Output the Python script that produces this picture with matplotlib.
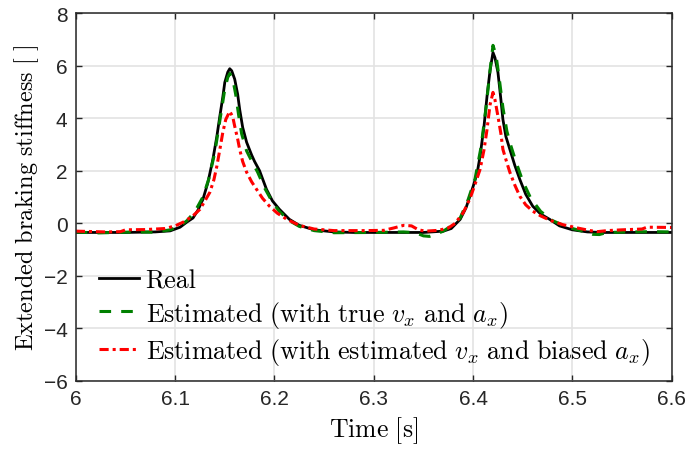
import matplotlib.pyplot as plt

# valores
t_real = [6.000, 6.050, 6.080, 6.095, 6.105, 6.112, 6.118, 6.123, 6.128, 6.133,
          6.138, 6.142, 6.145, 6.148, 6.150, 6.153, 6.155, 6.157, 6.160, 6.163,
          6.165, 6.168, 6.172, 6.177, 6.180, 6.185, 6.192, 6.198, 6.205, 6.215,
          6.225, 6.240, 6.260, 6.280, 6.350, 6.370, 6.378, 6.387, 6.393, 6.400,
          6.404, 6.407, 6.411, 6.414, 6.417, 6.420, 6.422, 6.425, 6.428, 6.430,
          6.433, 6.437, 6.442, 6.447, 6.453, 6.460, 6.468, 6.477, 6.487, 6.500,
          6.515, 6.530, 6.600]
k_real = [-0.35, -0.35, -0.33, -0.29, -0.15, 0.05, 0.20, 0.50, 0.91, 1.55,
          2.43, 3.30, 4.07, 4.80, 5.36, 5.75, 5.88, 5.80, 5.48, 4.90,
          4.33, 3.65, 3.08, 2.60, 2.35, 2.00, 1.29, 0.85, 0.53, 0.15,
          -0.08, -0.25, -0.33, -0.35, -0.35, -0.30, -0.20, 0.15, 0.60, 1.40,
          1.90, 2.55, 3.70, 4.83, 5.80, 6.50, 6.30, 5.74, 4.70, 3.95,
          3.30, 2.81, 2.20, 1.67, 1.10, 0.65, 0.35, 0.15, -0.10, -0.25,
          -0.33, -0.35, -0.35]

t_true = [6.000, 6.020, 6.040, 6.060, 6.080, 6.095, 6.105, 6.112, 6.120, 6.128,
          6.134, 6.140, 6.145, 6.150, 6.153, 6.155, 6.158, 6.161, 6.164, 6.167,
          6.172, 6.178, 6.183, 6.190, 6.198, 6.205, 6.215, 6.225, 6.240, 6.260,
          6.300, 6.330, 6.342, 6.350, 6.356, 6.362, 6.370, 6.380, 6.387, 6.395,
          6.402, 6.408, 6.413, 6.417, 6.420, 6.423, 6.426, 6.430, 6.434, 6.438,
          6.443, 6.450, 6.458, 6.468, 6.480, 6.495, 6.510, 6.520, 6.527, 6.535,
          6.560, 6.580, 6.600]
k_true = [-0.33, -0.37, -0.35, -0.33, -0.34, -0.25, -0.10, 0.10, 0.45, 1.00,
          1.70, 2.70, 3.90, 5.10, 5.55, 5.70, 5.50, 4.90, 4.10, 3.40,
          2.75, 2.30, 1.95, 1.35, 0.80, 0.45, 0.10, -0.12, -0.28, -0.36,
          -0.35, -0.33, -0.36, -0.48, -0.50, -0.42, -0.30, -0.05, 0.20, 0.90,
          1.70, 2.90, 4.40, 5.80, 6.77, 6.40, 5.60, 4.40, 3.50, 2.95,
          2.35, 1.60, 0.95, 0.45, 0.10, -0.15, -0.30, -0.42, -0.43, -0.35,
          -0.33, -0.32, -0.33]

t_est = [6.000, 6.030, 6.045, 6.050, 6.070, 6.090, 6.100, 6.108, 6.117, 6.125,
         6.130, 6.135, 6.139, 6.142, 6.145, 6.148, 6.151, 6.155, 6.158, 6.160,
         6.163, 6.165, 6.168, 6.172, 6.177, 6.182, 6.188, 6.195, 6.203, 6.2125,
         6.225, 6.240, 6.260, 6.290, 6.310, 6.320, 6.330, 6.338, 6.345, 6.352,
         6.365, 6.375, 6.382, 6.390, 6.397, 6.403, 6.407, 6.411, 6.414, 6.417,
         6.420, 6.422, 6.425, 6.428, 6.430, 6.434, 6.437, 6.442, 6.447, 6.453,
         6.460, 6.468, 6.477, 6.490, 6.505, 6.518, 6.525, 6.535, 6.550, 6.570,
         6.575, 6.600]
k_est = [-0.30, -0.33, -0.32, -0.25, -0.24, -0.20, -0.10, 0.04, 0.25, 0.53,
         0.85, 1.18, 1.65, 2.17, 2.80, 3.46, 3.95, 4.26, 4.05, 3.69,
         3.20, 2.81, 2.35, 1.94, 1.58, 1.29, 0.95, 0.65, 0.38, 0.15,
         -0.08, -0.22, -0.28, -0.28, -0.27, -0.18, -0.08, -0.10, -0.25, -0.30,
         -0.27, -0.18, 0.00, 0.40, 0.95, 1.60, 2.05, 2.80, 3.57, 4.50,
         4.98, 4.70, 4.07, 3.40, 2.81, 2.30, 1.94, 1.45, 1.03, 0.70,
         0.46, 0.28, 0.12, -0.05, -0.18, -0.28, -0.32, -0.28, -0.25, -0.22,
         -0.15, -0.16]

plt.rcParams['mathtext.fontset'] = 'cm'
plt.rcParams['font.family'] = ['Liberation Sans', 'DejaVu Sans']

fig = plt.figure(figsize=(6.89, 4.52), dpi=100)
ax = fig.add_axes([0.110, 0.155, 0.865, 0.814])

ax.plot(t_real, k_real, color='black', lw=2.0, label='Real')
ax.plot(t_true, k_true, color=(0, 0.5, 0), lw=2.2, dashes=(3.8, 3.3),
        label=r'$\mathrm{Estimated\ (with\ true\ }v_x\mathrm{\ and\ }a_x\mathrm{)}$')
ax.plot(t_est, k_est, color='red', lw=2.2, dashes=(3, 1.3, 1, 1.3),
        label=r'$\mathrm{Estimated\ (with\ estimated\ }v_x\mathrm{\ and\ biased\ }a_x\mathrm{)}$')

ax.set_xlim(6, 6.6)
ax.set_ylim(-6, 8)
ax.set_xticks([6, 6.1, 6.2, 6.3, 6.4, 6.5, 6.6])
ax.set_xticklabels(['6', '6.1', '6.2', '6.3', '6.4', '6.5', '6.6'])
ax.set_yticks(range(-6, 9, 2))
ax.grid(True, color='#e3e3e3', lw=1.2)
ax.set_axisbelow(True)
ax.tick_params(direction='in', length=4, width=1, top=True, right=True,
               labelsize=15, colors='#262626', pad=6)
for s in ax.spines.values():
    s.set_color('#262626')
    s.set_linewidth(1.1)

ax.set_xlabel(r'$\mathrm{Time\ [s]}$', fontsize=18.5, labelpad=4)
ax.set_ylabel(r'$\mathrm{Extended\ braking\ stiffness\ [\ ]}$', fontsize=17.5, labelpad=2)

leg = ax.legend(loc='upper left', bbox_to_anchor=(0.0386, 0.306), frameon=False,
                fontsize=18.7, handlelength=1.55, handletextpad=0.25, labelspacing=0.25,
                borderpad=0, borderaxespad=0)
# "Real" en texto normal con cmr10 para que la fila tenga la misma altura
leg.get_texts()[0].set_family('cmr10')

plt.savefig('out.png', dpi=100)
